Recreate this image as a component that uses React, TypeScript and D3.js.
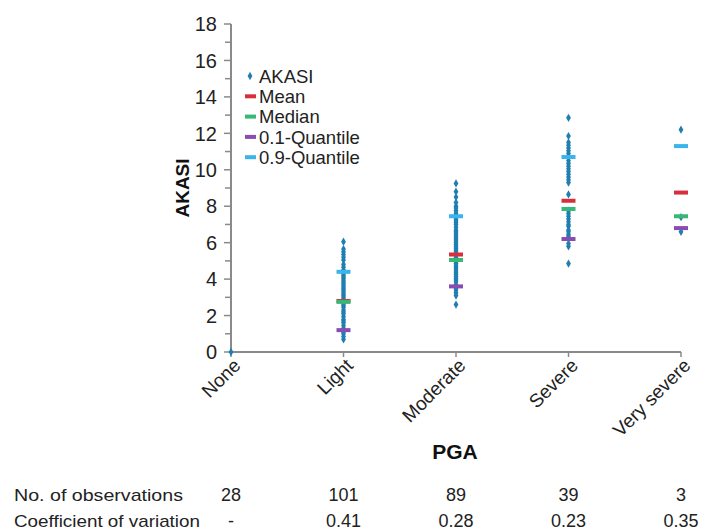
import React from "react";
import * as d3 from "d3";

const categories = ["None", "Light", "Moderate", "Severe", "Very severe"];
const noneValues = [0];
const lightValues = [0.7, 0.85, 1.0, 1.1, 1.3, 1.45, 1.6, 1.7, 1.8, 1.95, 2.1, 2.2, 2.3, 2.45, 2.55, 2.65, 2.9, 3.0, 3.1, 3.2, 3.3, 3.4, 3.5, 3.6, 3.7, 3.8, 3.9, 4.0, 4.1, 4.2, 4.3, 4.5, 4.65, 4.8, 5.05, 5.2, 5.35, 5.5, 5.65, 6.05];
const moderateValues = [2.6, 3.1, 3.25, 3.4, 3.5, 3.7, 3.85, 3.95, 4.05, 4.15, 4.25, 4.35, 4.45, 4.55, 4.65, 4.75, 4.85, 4.95, 5.2, 5.5, 5.6, 5.7, 5.8, 5.9, 6.0, 6.1, 6.2, 6.3, 6.4, 6.5, 6.6, 6.7, 6.85, 7.0, 7.1, 7.2, 7.3, 7.6, 7.75, 7.9, 8.0, 8.2, 8.5, 8.8, 9.25];
const severeValues = [4.85, 5.8, 5.95, 6.35, 6.45, 6.6, 6.7, 6.9, 7.0, 7.15, 7.3, 7.45, 7.6, 7.75, 8.65, 9.3, 9.45, 9.6, 9.75, 9.9, 10.05, 10.2, 10.35, 10.5, 10.9, 11.05, 11.2, 11.35, 11.5, 11.85, 12.85];
const verySevereValues = [6.6, 7.4, 12.2];
const seriesValues = [noneValues, lightValues, moderateValues, severeValues, verySevereValues];

const meanValues = [0, 2.8, 5.35, 8.3, 8.75];
const medianValues = [0, 2.75, 5.05, 7.85, 7.45];
const q10Values = [0, 1.2, 3.6, 6.2, 6.8];
const q90Values = [0, 4.4, 7.45, 10.7, 11.3];

const observations = ["28", "101", "89", "39", "3"];
const coefVariation = ["-", "0.41", "0.28", "0.23", "0.35"];
const yTicks = [0, 2, 4, 6, 8, 10, 12, 14, 16, 18];
const yMinorTicks = [1, 3, 5, 7, 9, 11, 13, 15, 17];

const legendItems = [
  { label: "AKASI", kind: "point", color: "#1f7fb0" },
  { label: "Mean", kind: "dash", color: "#d7303c" },
  { label: "Median", kind: "dash", color: "#38b876" },
  { label: "0.1-Quantile", kind: "dash", color: "#8a4cb2" },
  { label: "0.9-Quantile", kind: "dash", color: "#3ab4ea" },
];

const statSeries = [
  { values: meanValues, color: "#d7303c" },
  { values: medianValues, color: "#38b876" },
  { values: q10Values, color: "#8a4cb2" },
  { values: q90Values, color: "#3ab4ea" },
];

const FONT = "'Liberation Sans', Arial, sans-serif";
const AXIS = "#8a8a8a";
const TEXT = "#222";

export default function App() {
  const x = d3.scalePoint<string>().domain(categories).range([231, 681]).padding(0);
  const y = d3.scaleLinear().domain([0, 18]).range([352, 24]);
  const diamond = d3.symbol().type(d3.symbolDiamond).size(20)();
  const dashW = 14;
  const dashH = 4;

  return (
    <svg width={701} height={531} style={{ position: "absolute", left: 0, top: 0, background: "#fff" }} fontFamily={FONT}>
      {/* axes */}
      <line x1={231} x2={231} y1={y(18)} y2={y(0)} stroke={AXIS} strokeWidth={2} />
      <line x1={230} x2={x("Very severe")!} y1={y(0)} y2={y(0)} stroke={AXIS} strokeWidth={2} />
      {yTicks.map((t) => (
        <g key={"yt" + t}>
          <line x1={224} x2={231} y1={y(t)} y2={y(t)} stroke={AXIS} strokeWidth={1.5} />
          <text x={217} y={y(t)} dy="0.36em" textAnchor="end" fontSize={20} fill={TEXT}>{t}</text>
        </g>
      ))}
      {yMinorTicks.map((t) => (
        <line key={"ym" + t} x1={225} x2={231} y1={y(t)} y2={y(t)} stroke={AXIS} strokeWidth={1.5} />
      ))}
      {categories.map((c) => (
        <g key={"xt" + c}>
          <line x1={x(c)!} x2={x(c)!} y1={y(0)} y2={y(0) + 5} stroke={AXIS} strokeWidth={1.5} />
          <text
            transform={`translate(${x(c)! + 6},${y(0) + 10}) rotate(-45)`}
            textAnchor="end"
            dy="0.35em"
            fontSize={19}
            fill={TEXT}
          >
            {c}
          </text>
        </g>
      ))}

      {/* axis titles */}
      <text x={455} y={459} textAnchor="middle" fontSize={21} fontWeight="bold" fill="#111">PGA</text>
      <text transform={`translate(189,${y(9)}) rotate(-90)`} textAnchor="middle" fontSize={19} fontWeight="bold" fill="#111">AKASI</text>

      {/* points */}
      {seriesValues.map((vals, i) =>
        vals.map((v, j) => (
          <path key={`p${i}-${j}`} d={diamond!} transform={`translate(${x(categories[i])!},${y(v)})`} fill="#1f7fb0" />
        ))
      )}

      {/* stats */}
      {statSeries.map((s, si) =>
        s.values.map((v, i) => (
          <rect
            key={`s${si}-${i}`}
            x={x(categories[i])! - dashW / 2}
            y={y(v) - dashH / 2}
            width={dashW}
            height={dashH}
            fill={s.color}
            opacity={i === 0 ? 0 : 1}
          />
        ))
      )}

      {/* legend */}
      {legendItems.map((item, i) => {
        const ly = 76 + i * 20.3;
        return (
          <g key={"lg" + i}>
            {item.kind === "point" ? (
              <path d={diamond!} transform={`translate(250,${ly})`} fill={item.color} />
            ) : (
              <rect x={245} y={ly - 2} width={11} height={4} fill={item.color} />
            )}
            <text x={259} y={ly} dy="0.36em" fontSize={18.5} fill={TEXT}>{item.label}</text>
          </g>
        );
      })}

      {/* table */}
      <text x={14} y={495} dy="0.35em" fontSize={17} fill={TEXT} textLength={169} lengthAdjust="spacingAndGlyphs">No. of  observations</text>
      <text x={14} y={521} dy="0.35em" fontSize={17} fill={TEXT} textLength={186} lengthAdjust="spacingAndGlyphs">Coefficient of variation</text>
      {categories.map((c, i) => (
        <g key={"tb" + c}>
          <text x={x(c)!} y={495} dy="0.35em" textAnchor="middle" fontSize={18} fill={TEXT}>{observations[i]}</text>
          <text x={x(c)!} y={521} dy="0.35em" textAnchor="middle" fontSize={18} fill={TEXT}>{coefVariation[i]}</text>
        </g>
      ))}
    </svg>
  );
}
